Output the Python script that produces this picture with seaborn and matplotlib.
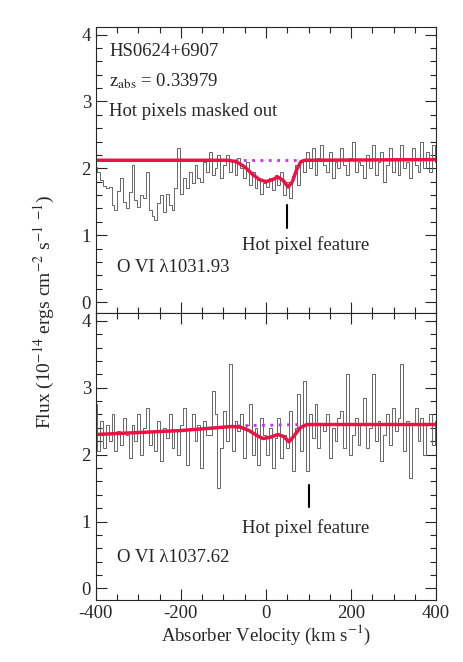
import numpy as np
import pandas as pd
import matplotlib
matplotlib.use("Agg")
import matplotlib.pyplot as plt
from matplotlib.ticker import MultipleLocator
import seaborn as sns

# velocity grid of the spectra (km/s)
velocity = np.linspace(-400, 400, 120)

# O VI 1031.93 flux
flux_1031 = [2.02, 1.95, 1.82, 1.74, 1.70, 1.72, 1.45, 1.38, 1.66, 1.85, 1.50, 1.40, 1.64, 2.05, 1.52,
             1.42, 1.60, 1.55, 1.95, 1.38, 1.28, 1.22, 1.48, 1.60, 1.35, 1.62, 1.45, 1.38, 1.70, 2.30,
             1.62, 1.85, 1.70, 1.95, 1.78, 2.05, 1.85, 1.80, 2.10, 1.95, 2.25, 1.90, 2.00, 2.20, 1.85,
             2.05, 2.20, 1.95, 2.10, 1.90, 2.15, 2.00, 1.85, 2.10, 1.75, 1.95, 1.70, 1.85, 1.62, 1.78,
             1.72, 1.85, 1.68, 1.90, 1.75, 1.95, 1.60, 1.80, 1.55, 1.88, 2.05, 1.75, 2.10, 1.95, 2.25,
             2.00, 2.30, 1.90, 2.15, 2.35, 2.05, 1.95, 2.25, 1.85, 2.10, 2.00, 2.30, 2.05, 1.90, 2.15,
             2.40, 1.95, 2.10, 2.05, 1.85, 2.20, 2.00, 2.35, 1.90, 2.10, 2.25, 1.80, 2.05, 2.30, 1.95,
             2.15, 1.90, 2.35, 2.00, 2.10, 1.85, 2.30, 2.05, 1.95, 2.40, 2.00, 2.25, 1.95, 2.35, 2.10]

# O VI 1037.62 flux
flux_1037 = [2.75, 2.05, 2.50, 2.10, 2.45, 2.20, 2.60, 2.05, 2.35, 2.15, 2.55, 2.30, 1.95, 2.45, 2.20,
             2.60, 2.00, 2.40, 2.70, 2.15, 2.35, 2.05, 2.50, 1.90, 2.40, 2.25, 2.60, 2.10, 2.35, 2.00,
             2.45, 2.70, 1.85, 2.40, 2.60, 2.20, 2.45, 1.80, 2.50, 2.30, 2.30, 2.95, 2.60, 1.50, 2.10,
             2.65, 2.20, 3.35, 2.05, 2.50, 2.35, 2.60, 1.95, 2.45, 2.75, 2.00, 2.40, 1.85, 2.55, 2.30,
             2.00, 2.40, 1.80, 2.25, 2.55, 1.95, 2.30, 2.10, 2.65, 1.75, 2.40, 2.90, 2.05, 3.10, 1.75,
             2.60, 2.25, 2.75, 2.10, 2.45, 2.35, 2.60, 1.95, 2.40, 2.20, 2.55, 2.65, 2.10, 3.20, 2.00,
             2.30, 2.55, 2.15, 2.45, 2.85, 2.10, 2.40, 3.20, 2.20, 2.50, 1.90, 2.30, 2.60, 2.15, 2.70,
             2.35, 2.55, 3.35, 2.05, 2.50, 1.65, 2.45, 2.70, 2.20, 2.55, 2.00, 2.45, 2.60, 2.15, 2.50]

# fitted profiles
model_v_1031 = [-400, -90, -70, -50, -30, -15, 0, 15, 28, 40, 52, 62, 72, 82, 92, 400]
model_1031 = [2.12, 2.12, 2.10, 2.02, 1.90, 1.83, 1.80, 1.83, 1.87, 1.82, 1.72, 1.80, 1.98, 2.10, 2.12, 2.13]
model_v_1037 = [-400, -200, -80, -60, -40, -20, -7, 10, 28, 42, 54, 66, 80, 96, 400]
model_1037 = [2.30, 2.36, 2.42, 2.41, 2.36, 2.28, 2.24, 2.26, 2.30, 2.27, 2.19, 2.28, 2.40, 2.45, 2.45]

# continuum under the masked region
cont_v_1031 = [-73, 80]
cont_1031 = [2.12, 2.12]
cont_v_1037 = [-68, 87]
cont_1037 = [2.43, 2.45]

hot_pixel_v = [50, 100]

sns.set_theme(style="ticks")
plt.rcParams['font.family'] = ['Liberation Serif', 'DejaVu Serif']
plt.rcParams['mathtext.fontset'] = 'stix'
plt.rcParams['axes.unicode_minus'] = False

fig, axes = plt.subplots(2, 1, figsize=(4.63, 6.62), dpi=100, sharex=True)
fig.subplots_adjust(left=0.207, right=0.942, top=0.959, bottom=0.094, hspace=0)

panels = [
    (flux_1031, model_v_1031, model_1031, cont_v_1031, cont_1031, hot_pixel_v[0],
     (1.45, 1.11), 0.85, "O VI λ1031.93", 0.51),
    (flux_1037, model_v_1037, model_1037, cont_v_1037, cont_1037, hot_pixel_v[1],
     (1.54, 1.22), 0.90, "O VI λ1037.62", 0.46),
]

fs = 13.5
for ax, (flux, mv, mf, cv, cf, hv, tick_y, text_y, ion, ion_y) in zip(axes, panels):
    df = pd.DataFrame({"v": velocity, "flux": flux})
    sns.lineplot(data=df, x="v", y="flux", ax=ax, color="#666666", lw=0.7,
                 drawstyle="steps-mid", estimator=None)
    ax.plot(cv, cf, color="#bb33ee", lw=2, ls=(0, (1, 2)))
    sns.lineplot(x=mv, y=mf, ax=ax, color="#ee1144", lw=2.5, estimator=None)
    ax.plot([hv, hv], tick_y, color="black", lw=1.5)
    ax.text(94, text_y, "Hot pixel feature", ha="center", va="center", fontsize=fs)
    ax.text(-351, ion_y, ion, ha="left", va="center", fontsize=fs)

    ax.set_xlim(-400, 400)
    ax.set_ylim(-0.17, 4.11)
    ax.xaxis.set_major_locator(MultipleLocator(200))
    ax.xaxis.set_minor_locator(MultipleLocator(50))
    ax.yaxis.set_major_locator(MultipleLocator(1))
    ax.yaxis.set_minor_locator(MultipleLocator(0.2))
    ax.tick_params(which="both", direction="in", top=True, right=True, labelsize=fs, width=0.8)
    ax.tick_params(which="major", length=8)
    ax.tick_params(which="minor", length=4)
    for s in ax.spines.values():
        s.set_linewidth(0.8)
    ax.set_xlabel("")
    ax.set_ylabel("")

top = axes[0]
top.text(-369, 3.75, "HS0624+6907", ha="left", va="center", fontsize=fs)
top.text(-369, 3.30, r"z$_{\rm abs}$ = 0.33979", ha="left", va="center", fontsize=fs)
top.text(-369, 2.85, "Hot pixels masked out", ha="left", va="center", fontsize=fs)

axes[1].set_xlabel(r"Absorber Velocity (km s$^{-1}$)", fontsize=fs, labelpad=1)
fig.text(0.097, 0.529, r"Flux (10$^{-14}$ ergs cm$^{-2}$ s$^{-1}$ $^{-1}$)",
         rotation=90, ha="center", va="center", fontsize=14)

fig.savefig("out.png", dpi=100)
